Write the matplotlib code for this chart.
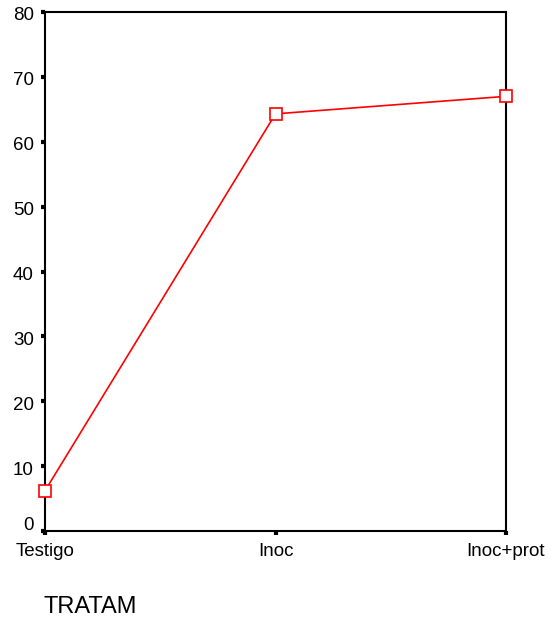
import matplotlib
matplotlib.use("Agg")
import matplotlib.pyplot as plt
import matplotlib.transforms as mtransforms

categories = ["Testigo", "Inoc", "Inoc+prot"]
values = [6.2, 64.3, 67.0]
yticks = [0, 10, 20, 30, 40, 50, 60, 70, 80]

plt.rcParams['font.family'] = ['Liberation Sans', 'DejaVu Sans']

fig = plt.figure(figsize=(5.51, 6.28), dpi=100)
ax = fig.add_axes([45/551, 1 - 531/628, (506 - 45)/551, (531 - 12)/628])

x = list(range(len(categories)))
ax.plot(x, values, color='#ff0000', lw=1.2, marker='s', markersize=8,
        markerfacecolor='white', markeredgecolor='#ff0000', markeredgewidth=1.2,
        clip_on=False, zorder=3)

ax.set_xlim(0, 2)
ax.set_ylim(0, 80)
ax.set_xticks(x)
ax.set_xticklabels(categories)
ax.set_yticks(yticks)
ax.set_yticklabels([str(t) for t in yticks])
for s in ax.spines.values():
    s.set_linewidth(1.5)
    s.set_color('black')
ax.tick_params(axis='both', length=3, width=3, direction='out', labelsize=13.5)
ax.tick_params(axis='x', pad=6)
ax.tick_params(axis='y', pad=5)

# small vertical offsets of y labels as in the reference
for lab in ax.get_yticklabels():
    dy = -2/72*1.0
    if lab.get_text() == "0":
        dy = 8/72
    lab.set_transform(lab.get_transform() + mtransforms.ScaledTranslation(0, dy * 0.72, fig.dpi_scale_trans))

fig.text(43/551, 1 - 607/628, "TRATAM", fontsize=17, ha='left', va='center')

fig.savefig("out.png", dpi=100)
